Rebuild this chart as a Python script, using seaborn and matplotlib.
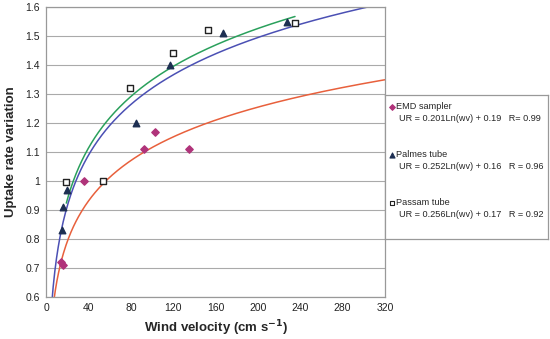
import numpy as np
import pandas as pd
import matplotlib
matplotlib.use("Agg")
import matplotlib.pyplot as plt
import seaborn as sns

# Measured points (wind velocity in cm/s, uptake rate variation)
emd_x = [14, 16, 36, 92, 103, 135]
emd_y = [0.72, 0.71, 1.00, 1.11, 1.17, 1.11]
palmes_x = [15, 16, 20, 85, 117, 167, 227]
palmes_y = [0.83, 0.91, 0.97, 1.20, 1.40, 1.51, 1.55]
passam_x = [19, 54, 79, 120, 153, 235]
passam_y = [0.995, 1.00, 1.32, 1.44, 1.52, 1.545]

# Log fits UR = a*Ln(wv) + b, and the wv range each fit line is drawn over
fit_a = [0.201, 0.252, 0.256]
fit_b = [0.19, 0.16, 0.17]
fit_r = ["R= 0.99", "R = 0.96", "R = 0.92"]
fit_range = [(7, 320), (5, 320), (19, 235)]
names = ["EMD sampler", "Palmes tube", "Passam tube"]

xticks = [0, 40, 80, 120, 160, 200, 240, 280, 320]
yticks = [0.6, 0.7, 0.8, 0.9, 1.0, 1.1, 1.2, 1.3, 1.4, 1.5, 1.6]
ytick_labels = ["0.6", "0.7", "0.8", "0.9", "1", "1.1", "1.2", "1.3", "1.4", "1.5", "1.6"]

sns.set_style("white")
plt.rcParams["font.family"] = ["Liberation Sans", "DejaVu Sans"]

line_colors = ["#e8603c", "#4b50b4", "#2aa05c"]
marker_styles = ["D", "^", "s"]
marker_face = ["#b0337a", "#1d2f52", "white"]
marker_edge = ["#b0337a", "#1d2f52", "#222222"]
marker_size = [14, 22, 16]

fig = plt.figure(figsize=(5.5, 3.39), dpi=100)
ax = fig.add_axes([0.084, 0.124, 0.616, 0.855])

# fit curves
for i in range(3):
    wv = np.linspace(fit_range[i][0], fit_range[i][1], 400)
    curve = pd.DataFrame({"wv": wv, "ur": fit_a[i] * np.log(wv) + fit_b[i]})
    sns.lineplot(data=curve, x="wv", y="ur", ax=ax, color=line_colors[i], lw=1.1)

# points
pts = [(emd_x, emd_y), (palmes_x, palmes_y), (passam_x, passam_y)]
for i, (px, py) in enumerate(pts):
    sns.scatterplot(x=px, y=py, ax=ax, marker=marker_styles[i], s=marker_size[i],
                    color=marker_face[i], edgecolor=marker_edge[i], linewidth=1.0, zorder=5)

ax.set_xlim(0, 320)
ax.set_ylim(0.6, 1.6)
ax.set_xticks(xticks)
ax.set_yticks(yticks)
ax.set_yticklabels(ytick_labels)
ax.tick_params(labelsize=7.5, length=2.5, color="#888888", pad=2, colors="#222222")
ax.tick_params(axis="both", which="both", direction="out")
ax.yaxis.grid(True, color="#aaaaaa", lw=0.8)
for s in ax.spines.values():
    s.set_color("#999999")
    s.set_linewidth(0.9)
ax.set_xlabel("Wind velocity (cm s$^{\\mathbf{-1}}$)", fontsize=9.5, fontweight="bold", labelpad=4)
ax.set_ylabel("Uptake rate variation", fontsize=9.5, fontweight="bold", labelpad=6)

# legend box
lax = fig.add_axes([0.700, 0.295, 0.296, 0.425])
lax.set_xlim(0, 1)
lax.set_ylim(0, 1)
lax.set_xticks([])
lax.set_yticks([])
for s in lax.spines.values():
    s.set_color("#999999")
    s.set_linewidth(0.9)
rows = [0.917, 0.583, 0.25]
for i in range(3):
    lax.scatter([0.045], [rows[i]], marker=marker_styles[i], s=marker_size[i] * 0.6,
                color=marker_face[i], edgecolor=marker_edge[i], linewidth=0.8)
    lax.text(0.065, rows[i], names[i], fontsize=6.6, va="center", ha="left")
    lax.text(0.085, rows[i] - 0.08,
             f"UR = {fit_a[i]:.3f}Ln(wv) + {fit_b[i]:.2f}   {fit_r[i]}",
             fontsize=6.6, va="center", ha="left")

fig.savefig("out.png", dpi=100)
